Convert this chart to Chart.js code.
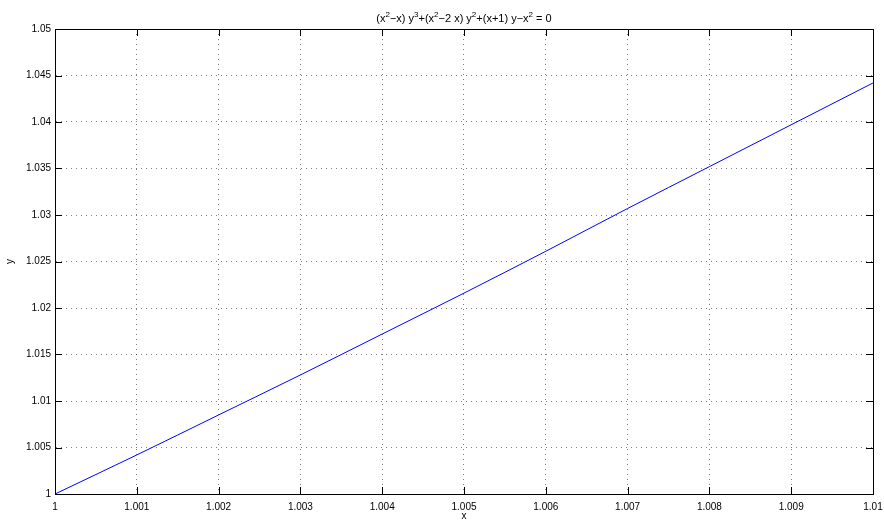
<!DOCTYPE html>
<html>
<head>
<meta charset="utf-8">
<script src="https://cdn.jsdelivr.net/npm/chart.js@4/dist/chart.umd.min.js"></script>
<style>
  html, body { margin: 0; padding: 0; background: #fff; }
  #wrap { width: 884px; height: 527px; position: relative; }
</style>
</head>
<body>
<div id="wrap"><canvas id="c" width="884" height="527"></canvas></div>
<script>
// title pieces: [text, isSuperscript]
const titleParts = [['(x', 0], ['2', 1], ['\u2212x) y', 0], ['3', 1], ['+(x', 0], ['2', 1], ['\u22122 x) y', 0], ['2', 1], ['+(x+1) y\u2212x', 0], ['2', 1], [' = 0', 0]];
const xValues = [1, 1.001, 1.002, 1.003, 1.004, 1.005, 1.006, 1.007, 1.008, 1.009, 1.01];
const yValues = [1, 1.0042, 1.0085, 1.0128, 1.0172, 1.0216, 1.0261, 1.0307, 1.0352, 1.0397, 1.0442];
const xTickLabels = ['1', '1.001', '1.002', '1.003', '1.004', '1.005', '1.006', '1.007', '1.008', '1.009', '1.01'];
const yTickLabels = ['1', '1.005', '1.01', '1.015', '1.02', '1.025', '1.03', '1.035', '1.04', '1.045', '1.05'];
const xLabel = 'x';
const yLabel = 'y';

const FONT = '"Liberation Sans", Arial, Helvetica, sans-serif';
Chart.defaults.font.family = FONT;
Chart.defaults.font.size = 10;
Chart.defaults.color = '#000';

const titlePlugin = {
  id: 'supTitle',
  afterDraw(chart) {
    const ctx = chart.ctx;
    const a = chart.chartArea;
    const base = '11px ' + FONT, sup = '8px ' + FONT;
    ctx.save();
    ctx.fillStyle = '#000';
    ctx.textBaseline = 'alphabetic';
    ctx.textAlign = 'left';
    let total = 0;
    titleParts.forEach(p => { ctx.font = p[1] ? sup : base; total += ctx.measureText(p[0]).width; });
    let x = (a.left + a.right) / 2 - total / 2;
    const y = 22;
    titleParts.forEach(p => {
      ctx.font = p[1] ? sup : base;
      ctx.fillText(p[0], x, p[1] ? y - 5 : y);
      x += ctx.measureText(p[0]).width;
    });
    ctx.restore();
  }
};

const boxPlugin = {
  id: 'box',
  afterDatasetsDraw(chart) {
    const ctx = chart.ctx;
    const a = chart.chartArea;
    const xs = chart.scales.x, ys = chart.scales.y;
    const L = 7;
    ctx.save();
    ctx.strokeStyle = '#000';
    ctx.lineWidth = 1;
    ctx.beginPath();
    xs.ticks.forEach(t => {
      const px = Math.round(xs.getPixelForValue(t.value)) + 0.5;
      ctx.moveTo(px, a.bottom); ctx.lineTo(px, a.bottom - L);
      ctx.moveTo(px, a.top); ctx.lineTo(px, a.top + L);
    });
    ys.ticks.forEach(t => {
      const py = Math.round(ys.getPixelForValue(t.value)) + 0.5;
      ctx.moveTo(a.left, py); ctx.lineTo(a.left + L, py);
      ctx.moveTo(a.right, py); ctx.lineTo(a.right - L, py);
    });
    ctx.stroke();
    ctx.strokeRect(Math.round(a.left) + 0.5, Math.round(a.top) + 0.5,
                   Math.round(a.right - a.left), Math.round(a.bottom - a.top));
    ctx.restore();
  }
};

new Chart(document.getElementById('c'), {
  type: 'line',
  data: {
    datasets: [{
      data: xValues.map((x, i) => ({ x: x, y: yValues[i] })),
      borderColor: '#0000ff',
      borderWidth: 1,
      pointRadius: 0,
      fill: false,
      cubicInterpolationMode: 'monotone'
    }]
  },
  options: {
    responsive: false,
    animation: false,
    events: [],
    layout: { padding: { left: 0, right: 11, top: 29, bottom: 0 } },
    plugins: {
      legend: { display: false },
      tooltip: { enabled: false },
      title: { display: false }
    },
    scales: {
      x: {
        type: 'linear',
        min: 1, max: 1.01,
        afterFit(s) { s.height = 33; s.paddingLeft = 0; s.paddingRight = 0; },
        ticks: {
          stepSize: 0.001,
          autoSkip: false,
          maxRotation: 0,
          padding: 7,
          font: { size: 10 },
          color: '#000',
          callback: (v, i) => xTickLabels[i]
        },
        grid: { color: 'rgba(0,0,0,0.5)', drawTicks: false, lineWidth: 1 },
        border: { display: true, color: '#000', width: 1, dash: [1, 4] },
        title: { display: true, text: xLabel, font: { size: 10 }, color: '#000', padding: { top: 0, bottom: 5 } }
      },
      y: {
        type: 'linear',
        min: 1, max: 1.05,
        afterFit(s) { s.width = 55; s.paddingTop = 0; s.paddingBottom = 0; },
        ticks: {
          stepSize: 0.005,
          autoSkip: false,
          padding: 4,
          font: { size: 10 },
          color: '#000',
          callback: (v, i) => yTickLabels[i]
        },
        grid: { color: 'rgba(0,0,0,0.5)', drawTicks: false, lineWidth: 1 },
        border: { display: true, color: '#000', width: 1, dash: [1, 4] },
        title: { display: true, text: yLabel, font: { size: 10 }, color: '#000', padding: { top: 4, bottom: 0 } }
      }
    }
  },
  plugins: [boxPlugin, titlePlugin]
});
</script>
</body>
</html>
